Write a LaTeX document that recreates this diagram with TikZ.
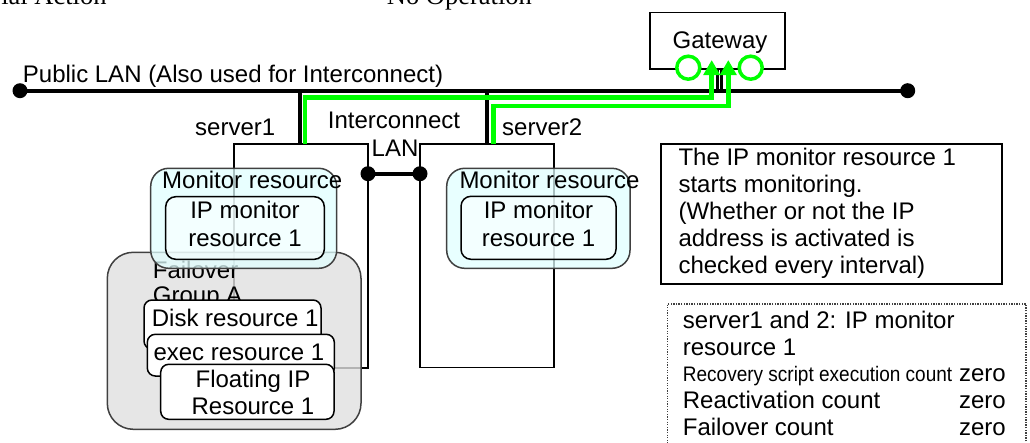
\documentclass[tikz,border=0pt]{standalone}
\usepackage{fontspec}
\setmainfont{Liberation Sans}
\newfontfamily\timesfont{Liberation Serif}
\usepackage{graphicx}
\usetikzlibrary{arrows.meta,fit}
\definecolor{lgreen}{HTML}{00FF00}
\definecolor{moncyan}{HTML}{E0FFFF}
\definecolor{edgegray}{HTML}{404040}
\begin{document}
\begin{tikzpicture}[x=1pt,y=-1pt,
  txt/.style={font=\fontsize{24}{27}\selectfont, inner sep=0pt},
  toptxt/.style={font=\timesfont\fontsize{26.5}{27}\selectfont, inner sep=0pt},
  lan/.style={line width=4pt},
  dot/.style={circle, fill=black, inner sep=0pt, minimum size=15pt},
  serverbox/.style={draw, line width=1.5pt, inner sep=0pt},
  grn/.style={draw=lgreen, line width=4.5pt, -{Triangle[length=15pt,width=16pt]}},
  gring/.style={circle, draw=lgreen, line width=3.5pt, fill=white, minimum size=23pt, inner sep=0pt},
  gwlink/.style={line width=2.6pt},
  monbox/.style={draw=edgegray, line width=1.5pt, fill=moncyan, fill opacity=0.75, rounded corners=18pt, inner sep=0pt},
  ipmbox/.style={draw=black, line width=1.5pt, fill=white, fill opacity=0.5, rounded corners=10pt, inner sep=0pt},
  fogbox/.style={draw=edgegray, line width=1.5pt, fill=black!12, fill opacity=0.8, rounded corners=26pt, inner sep=0pt},
  resbox/.style={draw, line width=1.5pt, fill=white, rounded corners=8pt, inner sep=0pt},
  descbox/.style={draw, line width=2pt, fill=white, inner sep=0pt},
  cntbox/.style={draw=black!75, line width=1.3pt, dash pattern=on 1.3pt off 1.3pt, inner sep=0pt}
]
\useasboundingbox (0,0) rectangle (1030,442);

% clipped header texts
\node[toptxt, anchor=base east] (hdr1) at (106.7,4) {ial Action};
\node[toptxt, anchor=base west] (hdr2) at (386.7,4) {No Operation};

% public LAN
\node[dot] (lanL) at (20,90.7) {};
\node[dot] (lanR) at (907.7,90.7) {};
\draw[lan] (lanL.center) -- (lanR.center);
\node[txt, anchor=base west] (lanlbl) at (22.7,82) {Public LAN (Also used for Interconnect)};

% servers
\node[serverbox, fit={(234,144) (368,368)}] (srv1) {};
\node[serverbox, fit={(420,144) (554,367.5)}] (srv2) {};
\coordinate (s1up) at (300,90.7);
\coordinate (s1dn) at (300,144);
\coordinate (s2up) at (487.3,90.7);
\coordinate (s2dn) at (487.3,144);
\draw[lan] (s1up) -- (s1dn);
\draw[lan] (s2up) -- (s2dn);
\node[txt, anchor=base west] (srv1lbl) at (195,135) {server1};
\node[txt, anchor=base west] (srv2lbl) at (502,135) {server2};

% interconnect LAN
\node[dot] (icL) at (368,173.7) {};
\node[dot] (icR) at (420,173.7) {};
\draw[lan] (icL.center) -- (icR.center);
\node[txt, anchor=base] (iclbl1) at (394,128) {Interconnect};
\node[txt, anchor=base] (iclbl2) at (395,156) {LAN};

% gateway
\node[draw, line width=1.5pt, inner sep=0pt, fit={(650,12.7) (785,69)}] (gw) {};
\node[txt, anchor=base] (gwlbl) at (720,48) {Gateway};
\coordinate (gl1a) at (717.4,69);
\coordinate (gl1b) at (717.4,90.7);
\coordinate (gl2a) at (721.6,69);
\coordinate (gl2b) at (721.6,90.7);
\draw[gwlink] (gl1a) -- (gl1b);
\draw[gwlink] (gl2a) -- (gl2b);
\node[gring] (gc1) at (688.3,67.7) {};
\node[gring] (gc2) at (750.7,67.7) {};

% green monitoring paths
\coordinate (g1s) at (305,144);
\coordinate (g1t) at (711.7,60);
\coordinate (g2s) at (493.3,144);
\coordinate (g2t) at (728.3,60);
\draw[grn] (g1s) |- (711.7,97.3) -- (g1t);
\draw[grn] (g2s) |- (728.3,106) -- (g2t);

% failover group
\node[fogbox, fit={(107.3,252.3) (361,429.3)}] (fog) {};
\node[txt, anchor=base west] (foglbl1) at (152.7,278.3) {Failover};
\node[txt, anchor=base west] (foglbl2) at (152.7,303.3) {Group A};

% monitor resources
\node[monbox, fit={(150.7,168.3) (336.7,268.3)}] (mon1) {};
\node[ipmbox, fit={(165.7,196.7) (324.3,259.3)}] (ipm1) {};
\node[txt, anchor=base west] (mon1lbl) at (162,188.3) {Monitor resource};
\node[txt, anchor=base] (ipm1a) at (245,218.3) {IP monitor};
\node[txt, anchor=base] (ipm1b) at (245,246) {resource 1};

\node[monbox, fit={(446.7,168.3) (630,268.3)}] (mon2) {};
\node[ipmbox, fit={(461,196.3) (616,259.3)}] (ipm2) {};
\node[txt, anchor=base west] (mon2lbl) at (459.3,188.3) {Monitor resource};
\node[txt, anchor=base] (ipm2a) at (538.5,218.3) {IP monitor};
\node[txt, anchor=base] (ipm2b) at (538.5,246) {resource 1};

% group resources
\node[resbox, fit={(144,300) (321,349)}] (disk) {};
\node[txt, anchor=base west] (disklbl) at (151.7,326.7) {Disk resource 1};
\node[resbox, fit={(147.3,334.3) (334.3,376)}] (exec) {};
\node[txt, anchor=base west] (execlbl) at (153.3,360) {exec resource 1};
\node[resbox, fit={(160.7,364.3) (334,419.3)}] (fip) {};
\node[txt, anchor=base] (fiplbl1) at (253,387.3) {Floating IP};
\node[txt, anchor=base] (fiplbl2) at (253,414.3) {Resource 1};

% description
\node[descbox, fit={(660.7,144.3) (1001.7,284)}] (desc) {};
\node[txt, anchor=base west] (d1) at (678.3,165.7) {The IP monitor resource 1};
\node[txt, anchor=base west] (d2) at (678.3,192.6) {starts monitoring.};
\node[txt, anchor=base west] (d3) at (678.3,219.5) {(Whether or not the IP};
\node[txt, anchor=base west] (d4) at (678.3,246.4) {address is activated is};
\node[txt, anchor=base west] (d5) at (678.3,273.3) {checked every interval)};

% counters
\node[cntbox, fit={(667.3,304) (1026,470)}] (cnt) {};
\node[txt, anchor=base west] (c1) at (682.7,328.3) {server1 and 2: IP monitor};
\node[txt, anchor=base west] (c2) at (682.7,355) {resource 1};
\node[anchor=base west, inner sep=0pt, font=\fontsize{21}{21}\selectfont] (c3) at (682.7,381.7) {\scalebox{0.905}[1]{Recovery script execution count}};
\node[txt, anchor=base east] (c3z) at (1006,381.7) {zero};
\node[txt, anchor=base west] (c4) at (682.7,408.3) {Reactivation count};
\node[txt, anchor=base east] (c4z) at (1006,408.3) {zero};
\node[txt, anchor=base west] (c5) at (682.7,435) {Failover count};
\node[txt, anchor=base east] (c5z) at (1006,435) {zero};
\end{tikzpicture}
\end{document}
